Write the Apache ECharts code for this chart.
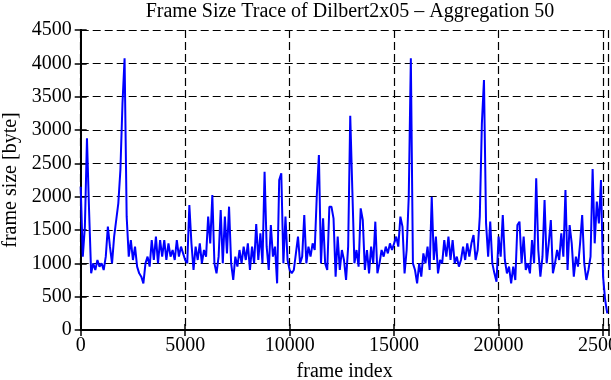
<!DOCTYPE html>
<html>
<head>
<meta charset="utf-8">
<script src="https://cdn.jsdelivr.net/npm/echarts@6/dist/echarts.min.js"></script>
<style>
  html, body { margin: 0; padding: 0; background: #fff; }
  #chart { width: 611px; height: 380px; }
</style>
</head>
<body>
<div id="chart"></div>
<script>
  // frame size [byte], one value every 100 frames
  var frameStep = 100
  var frameSize = [
    2150, 1100, 1550, 2875, 1800, 850, 1000, 900, 1050, 950,
    1000, 900, 1100, 1550, 1250, 1000, 1400, 1650, 1900, 2400,
    3400, 4075, 1700, 1100, 1350, 1050, 1250, 950, 850, 800,
    700, 1000, 1100, 950, 1350, 1050, 1400, 1000, 1350, 1100,
    1350, 1050, 1300, 1100, 1200, 1050, 1350, 1100, 1250, 1150,
    1050, 1000, 1875, 1300, 900, 1250, 1050, 1300, 1000, 1200,
    1100, 1700, 1300, 2025, 1000, 850, 1100, 1800, 1000, 1700,
    1150, 1850, 1000, 750, 1100, 950, 1200, 1000, 1250, 1050,
    1300, 900, 1250, 1000, 1590, 1050, 1450, 1000, 2375, 1250,
    900, 1575, 1100, 1250, 700, 2250, 2350, 1000, 1700, 1050,
    900, 850, 900, 1150, 1400, 1000, 1100, 1725, 1000, 1250,
    1100, 1300, 1200, 2025, 2625, 1000, 1675, 1000, 900, 1850,
    1850, 1675, 800, 1400, 900, 1200, 1050, 750, 1250, 3215,
    2100, 1000, 1200, 950, 1825, 1650, 900, 1200, 850, 1250,
    1000, 1625, 850, 1000, 1200, 1100, 1250, 1150, 1300, 1200,
    1300, 1400, 1250, 1700, 1550, 850, 1200, 2000, 4075, 1000,
    900, 700, 1000, 800, 1150, 1000, 1250, 900, 2000, 1050,
    1400, 850, 1050, 1000, 1350, 1100, 1400, 1050, 1350, 1000,
    1100, 950, 1050, 1250, 1050, 1300, 1100, 1300, 1425, 1050,
    1200, 1700, 3100, 3750, 1600, 1100, 1625, 1000, 850, 725,
    1400, 1100, 1725, 1050, 850, 950, 700, 950, 750, 1575,
    1625, 1000, 1400, 900, 1000, 850, 1350, 1000, 2275, 1200,
    800, 1100, 1950, 1000, 1300, 1650, 850, 1000, 1200, 1050,
    1450, 1100, 2100, 900, 1575, 1300, 800, 1100, 950, 1300,
    1725, 1000, 750, 900, 1100, 2415, 1300, 1925, 1600, 2250,
    800, 450, 250
  ]
  var xTicks = [0, 5000, 10000, 15000, 20000, 25000]
  var yTicks = [0, 500, 1000, 1500, 2000, 2500, 3000, 3500, 4000, 4500]

  var points = frameSize.map(function (v, i) { return [i * frameStep, v] })

  var font = "'Liberation Serif', 'DejaVu Serif', serif"
  var black = '#000'
  var gridLine = { show: true, lineStyle: { color: black, width: 1.2, type: [8, 4] } }
  var border = { show: true, lineStyle: { color: black, width: 2 } }
  var tick = { show: true, inside: true, length: 6, lineStyle: { color: black, width: 1.5 } }

  var chart = echarts.init(document.getElementById('chart'), null, { renderer: 'canvas' })
  chart.setOption({
    animation: false,
    title: {
      text: 'Frame Size Trace of Dilbert2x05 – Aggregation 50',
      left: 345,
      top: -3,
      textAlign: 'center',
      textStyle: { fontFamily: font, fontSize: 20, fontWeight: 'normal', color: black }
    },
    grid: { left: 80.7, right: 2.5, top: 30, bottom: 50, containLabel: false, outerBoundsMode: 'none' },
    xAxis: [
      {
        type: 'value',
        min: 0,
        max: 25260,
        interval: 5000,
        name: 'frame index',
        nameLocation: 'middle',
        nameGap: 32,
        nameTextStyle: { fontFamily: font, fontSize: 20, color: black },
        axisLine: border,
        axisTick: tick,
        splitLine: gridLine,
        axisLabel: {
          margin: 6,
          hideOverlap: false,
          fontFamily: font,
          fontSize: 20,
          color: black,
          formatter: function (v) { return xTicks.indexOf(v) >= 0 ? String(v) : '' }
        }
      },
      {
        type: 'value',
        position: 'top',
        min: 0,
        max: 25260,
        interval: 5000,
        axisLine: border,
        axisTick: tick,
        axisLabel: { show: false },
        splitLine: { show: false }
      }
    ],
    yAxis: [
      {
        type: 'value',
        min: 0,
        max: 4500,
        interval: 500,
        name: 'frame size [byte]',
        nameLocation: 'middle',
        nameGap: 60,
        nameTextStyle: { fontFamily: font, fontSize: 20, color: black },
        axisLine: border,
        axisTick: tick,
        splitLine: gridLine,
        axisLabel: {
          margin: 9,
          fontFamily: font,
          fontSize: 20,
          color: black,
          formatter: function (v) { return yTicks.indexOf(v) >= 0 ? String(v) : '' }
        }
      },
      {
        type: 'value',
        position: 'right',
        min: 0,
        max: 4500,
        interval: 500,
        axisLine: border,
        axisTick: tick,
        axisLabel: { show: false },
        splitLine: { show: false }
      }
    ],
    series: [
      {
        type: 'line',
        data: points,
        showSymbol: false,
        lineStyle: { color: '#0000ff', width: 2 },
        itemStyle: { color: '#0000ff' }
      }
    ]
  })
</script>
</body>
</html>
